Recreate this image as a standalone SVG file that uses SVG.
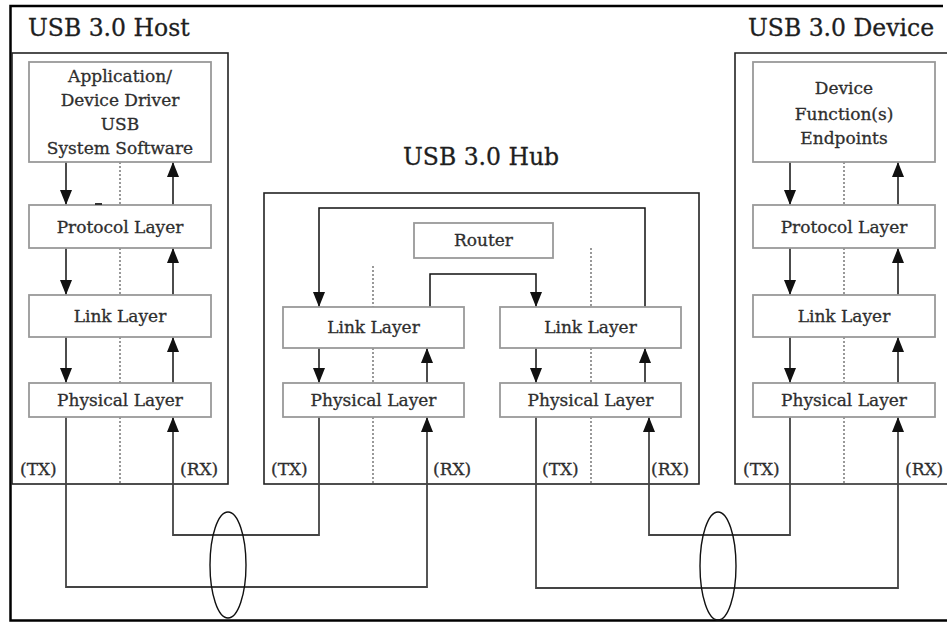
<svg xmlns="http://www.w3.org/2000/svg" width="947" height="622" viewBox="0 0 947 622">
<defs>
<marker id="ah" markerWidth="15" markerHeight="12" refX="15" refY="6" orient="auto" markerUnits="userSpaceOnUse" viewBox="0 0 15 12">
<path d="M0,0 L15,6 L0,12 Z" fill="#111"/>
</marker>
<style>
.frame{fill:none;stroke:#000;stroke-width:2.5}
.cont{fill:none;stroke:#222;stroke-width:1.6}
.box{fill:#fff;stroke:#999;stroke-width:1.8}
.t{font-family:"DejaVu Serif","Liberation Serif",serif;font-size:17px;fill:#2e2e2e;stroke:#2e2e2e;stroke-width:0.3;text-anchor:middle}
.lbl{font-family:"DejaVu Serif","Liberation Serif",serif;font-size:17px;fill:#2e2e2e;stroke:#2e2e2e;stroke-width:0.3}
.title{font-family:"DejaVu Serif","Liberation Serif",serif;font-size:23.5px;fill:#1e1e1e;stroke:#1e1e1e;stroke-width:0.3}
.arr{fill:none;stroke:#111;stroke-width:1.5;marker-end:url(#ah)}
.cab{fill:none;stroke:#444;stroke-width:1.8}
.dot{fill:none;stroke:#555;stroke-width:1.2;stroke-dasharray:2 2}
.ell{fill:none;stroke:#111;stroke-width:1.4}
</style>
</defs>
<rect width="947" height="622" fill="#fff"/>
<path class="frame" d="M943,6 H10.5 V620.5 H947"/>

<g id="host">
<rect class="cont" x="12" y="53" width="216" height="431"/>
<text class="title" x="28" y="36">USB 3.0 Host</text>
</g>
<g id="hub">
<rect class="cont" x="264" y="193" width="435" height="291"/>
<text class="title" x="403" y="165">USB 3.0 Hub</text>
</g>
<g id="device">
<path class="cont" d="M950,53 H735 V484 H950"/>
<text class="title" x="748" y="36">USB 3.0 Device</text>
</g>

<g id="connectors">
<path class="dot" d="M120,162 V205 M120,248 V295 M120,337 V383 M120,417 V484"/>
<path class="dot" d="M373,266 V307 M373,348 V383 M373,417 V484"/>
<path class="dot" d="M591,248 V307 M591,348 V383 M591,417 V484"/>
<path class="dot" d="M844,162 V205 M844,248 V295 M844,337 V383 M844,417 V484"/>
<path class="arr" d="M66,162 V205"/>
<path class="arr" d="M66,248 V295"/>
<path class="arr" d="M66,337 V383"/>
<path class="arr" d="M173,205 V162"/>
<path class="arr" d="M173,295 V248"/>
<path class="arr" d="M173,383 V337"/>
<path class="arr" d="M790,162 V205"/>
<path class="arr" d="M790,248 V295"/>
<path class="arr" d="M790,337 V383"/>
<path class="arr" d="M898,205 V162"/>
<path class="arr" d="M898,295 V248"/>
<path class="arr" d="M898,383 V337"/>
<path class="arr" d="M645,307 V208 H319 V307"/>
<path class="arr" d="M430,307 V274 H536 V307"/>
<path class="arr" d="M319,348 V383"/>
<path class="arr" d="M427,383 V348"/>
<path class="arr" d="M536,348 V383"/>
<path class="arr" d="M645,383 V348"/>
<path class="cab" d="M66,417 V587 H427 V430"/>
<path class="arr" d="M427,432 V417"/>
<path class="cab" d="M319,417 V535 H173 V430"/>
<path class="arr" d="M173,432 V417"/>
<path class="cab" d="M536,417 V588 H898 V430"/>
<path class="arr" d="M898,432 V417"/>
<path class="cab" d="M790,417 V535 H649 V430"/>
<path class="arr" d="M649,432 V417"/>
<ellipse class="ell" cx="228" cy="565" rx="18" ry="53"/>
<ellipse class="ell" cx="718" cy="566" rx="18" ry="54"/>
</g>

<g id="host-app">
<rect class="box" x="29" y="62" width="182" height="100"/>
<text class="t" x="120" y="82">Application/</text>
<text class="t" x="120" y="106">Device Driver</text>
<text class="t" x="120" y="130">USB</text>
<text class="t" x="120" y="154">System Software</text>
</g>
<g id="host-protocol">
<rect class="box" x="29" y="205" width="182" height="43"/>
<line x1="95" y1="204" x2="102" y2="204" stroke="#333" stroke-width="2"/>
<text class="t" x="120" y="233">Protocol Layer</text>
</g>
<g id="host-link">
<rect class="box" x="29" y="295" width="182" height="42"/>
<text class="t" x="120" y="322">Link Layer</text>
</g>
<g id="host-physical">
<rect class="box" x="29" y="383" width="182" height="34"/>
<text class="t" x="120" y="406">Physical Layer</text>
</g>

<g id="hub-router">
<rect class="box" x="414" y="223" width="139" height="35"/>
<text class="t" x="483.5" y="246">Router</text>
</g>
<g id="hub-link-left">
<rect class="box" x="283" y="307" width="181" height="41"/>
<text class="t" x="373.5" y="333">Link Layer</text>
</g>
<g id="hub-physical-left">
<rect class="box" x="283" y="383" width="181" height="34"/>
<text class="t" x="373.5" y="406">Physical Layer</text>
</g>
<g id="hub-link-right">
<rect class="box" x="500" y="307" width="181" height="41"/>
<text class="t" x="590.5" y="333">Link Layer</text>
</g>
<g id="hub-physical-right">
<rect class="box" x="500" y="383" width="181" height="34"/>
<text class="t" x="590.5" y="406">Physical Layer</text>
</g>

<g id="device-function">
<rect class="box" x="753" y="62" width="182" height="100"/>
<text class="t" x="844" y="94">Device</text>
<text class="t" x="844" y="120">Function(s)</text>
<text class="t" x="844" y="144">Endpoints</text>
</g>
<g id="device-protocol">
<rect class="box" x="753" y="205" width="182" height="43"/>
<text class="t" x="844" y="233">Protocol Layer</text>
</g>
<g id="device-link">
<rect class="box" x="753" y="295" width="182" height="42"/>
<text class="t" x="844" y="322">Link Layer</text>
</g>
<g id="device-physical">
<rect class="box" x="753" y="383" width="182" height="34"/>
<text class="t" x="844" y="406">Physical Layer</text>
</g>

<g id="labels">
<text class="lbl" x="20" y="475">(TX)</text>
<text class="lbl" x="180" y="475">(RX)</text>
<text class="lbl" x="271" y="475">(TX)</text>
<text class="lbl" x="433" y="475">(RX)</text>
<text class="lbl" x="542" y="475">(TX)</text>
<text class="lbl" x="651" y="475">(RX)</text>
<text class="lbl" x="743" y="475">(TX)</text>
<text class="lbl" x="905" y="475">(RX)</text>
</g>
</svg>
